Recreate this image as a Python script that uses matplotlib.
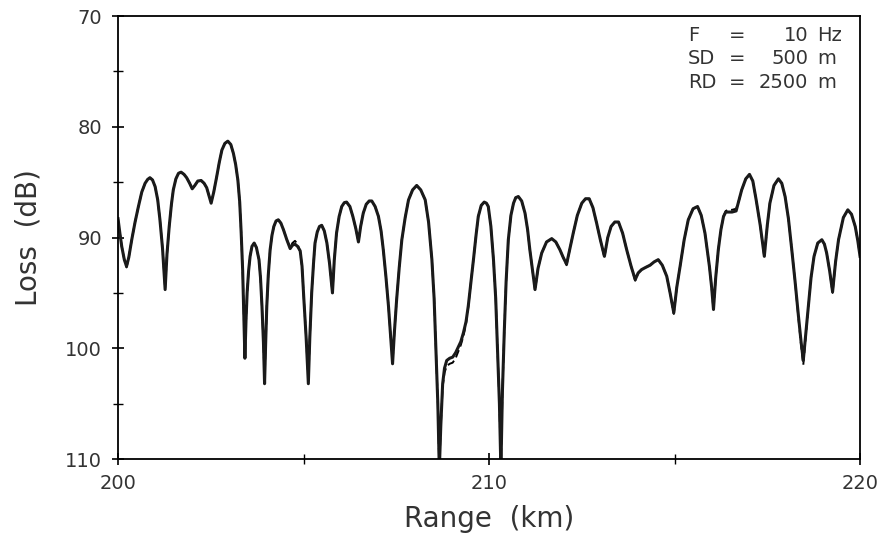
import numpy as np
import matplotlib
matplotlib.use("Agg")
import matplotlib.pyplot as plt
from matplotlib.ticker import MultipleLocator

# range (km) and loss (dB)
range_km = [
    200.00, 200.05, 200.10, 200.17, 200.23, 200.29, 200.37, 200.46, 200.55, 200.64,
    200.73, 200.80, 200.86, 200.93, 201.00, 201.07, 201.13, 201.20, 201.27, 201.32,
    201.38, 201.44, 201.49, 201.56, 201.63, 201.70, 201.78, 201.85, 201.93, 202.00,
    202.07, 202.15, 202.24, 202.32, 202.39, 202.46, 202.51, 202.58, 202.66, 202.73,
    202.80, 202.88, 202.96, 203.04, 203.11, 203.17, 203.23, 203.28, 203.32, 203.36,
    203.39, 203.42, 203.45, 203.48, 203.52, 203.56, 203.61, 203.67, 203.73, 203.80,
    203.84, 203.88, 203.92, 203.95, 203.98, 204.01, 204.05, 204.10, 204.15, 204.20,
    204.26, 204.32, 204.39, 204.46, 204.55, 204.64, 204.70, 204.77, 204.84, 204.91,
    204.96, 205.01, 205.07, 205.13, 205.17, 205.22, 205.27, 205.31, 205.37, 205.43,
    205.49, 205.56, 205.63, 205.70, 205.78, 205.83, 205.89, 205.96, 206.03, 206.10,
    206.16, 206.25, 206.33, 206.41, 206.48, 206.54, 206.61, 206.69, 206.77, 206.84,
    206.93, 207.02, 207.09, 207.15, 207.22, 207.29, 207.35, 207.40, 207.45, 207.51,
    207.58, 207.65, 207.74, 207.83, 207.94, 208.05, 208.16, 208.28, 208.37, 208.46,
    208.52, 208.57, 208.62, 208.66, 208.70, 208.75, 208.80, 208.86, 208.94, 209.02,
    209.10, 209.17, 209.24, 209.31, 209.38, 209.44, 209.51, 209.58, 209.65, 209.71,
    209.79, 209.87, 209.93, 209.98, 210.05, 210.12, 210.18, 210.23, 210.28, 210.32,
    210.36, 210.41, 210.46, 210.52, 210.59, 210.66, 210.72, 210.79, 210.88, 210.97,
    211.04, 211.10, 211.17, 211.24, 211.32, 211.42, 211.55, 211.69, 211.80, 211.91,
    212.00, 212.09, 212.18, 212.27, 212.38, 212.50, 212.60, 212.70, 212.80, 212.90,
    213.00, 213.11, 213.20, 213.29, 213.39, 213.49, 213.60, 213.71, 213.83, 213.94,
    214.02, 214.11, 214.22, 214.34, 214.45, 214.56, 214.67, 214.79, 214.88, 214.98,
    215.06, 215.15, 215.26, 215.37, 215.50, 215.62, 215.72, 215.82, 215.94, 216.00,
    216.05, 216.11, 216.18, 216.25, 216.32, 216.38, 216.45, 216.55, 216.66, 216.74,
    216.81, 216.92, 217.02, 217.11, 217.20, 217.31, 217.42, 217.50, 217.57, 217.68,
    217.80, 217.89, 217.98, 218.07, 218.16, 218.25, 218.34, 218.41, 218.47, 218.54,
    218.61, 218.68, 218.76, 218.86, 218.97, 219.04, 219.10, 219.18, 219.26, 219.34,
    219.42, 219.55, 219.67, 219.77, 219.87, 219.94, 220.00,
]

loss_solid = [
    88.3, 89.6, 90.8, 92.0, 92.6, 91.8, 90.2, 88.6, 87.2, 85.9,
    85.1, 84.75, 84.6, 84.8, 85.4, 86.6, 88.4, 91.0, 94.7, 91.5,
    89.0, 87.0, 85.7, 84.7, 84.2, 84.1, 84.3, 84.6, 85.1, 85.6,
    85.3, 84.9, 84.85, 85.1, 85.5, 86.3, 86.9, 85.9, 84.5, 83.2,
    82.1, 81.5, 81.3, 81.6, 82.4, 83.4, 84.8, 86.8, 89.6, 93.0,
    97.0, 100.9, 97.5, 95.0, 93.0, 91.7, 90.8, 90.5, 90.9, 92.0,
    93.6, 96.2, 99.5, 103.2, 99.5, 96.2, 93.4, 91.1, 89.8, 89.0,
    88.5, 88.4, 88.7, 89.3, 90.2, 91.0, 90.7, 90.6, 90.8, 91.2,
    92.6, 95.6, 99.0, 103.2, 99.0, 95.0, 92.3, 90.5, 89.5, 89.0,
    88.9, 89.4, 90.5, 92.3, 95.0, 92.0, 89.6, 88.1, 87.2, 86.85,
    86.8, 87.2, 88.1, 89.2, 90.4, 89.0, 87.8, 87.0, 86.7, 86.7,
    87.2, 88.1, 89.4, 91.1, 93.5, 96.2, 99.0, 101.4, 98.5, 95.6,
    92.7, 90.2, 88.2, 86.6, 85.7, 85.3, 85.7, 86.6, 88.6, 92.0,
    95.5, 100.2, 105.0, 111.0, 107.0, 103.2, 101.8, 101.1, 100.9, 100.8,
    100.4, 99.9, 99.4, 98.6, 97.6, 96.2, 94.1, 92.0, 89.8, 88.1,
    87.1, 86.8, 86.9, 87.2, 89.0, 92.0, 95.5, 100.2, 105.0, 111.0,
    104.0, 98.6, 94.0, 90.2, 88.0, 86.9, 86.4, 86.3, 86.7, 87.8,
    89.3, 91.1, 92.9, 94.7, 92.8, 91.4, 90.4, 90.1, 90.4, 91.1,
    91.8, 92.4, 91.0, 89.6, 88.0, 86.9, 86.5, 86.5, 87.3, 88.7,
    90.2, 91.7, 90.0, 89.0, 88.6, 88.6, 89.6, 91.1, 92.6, 93.8,
    93.2, 92.9, 92.7, 92.5, 92.2, 92.0, 92.5, 93.5, 95.0, 96.8,
    94.5, 92.6, 90.2, 88.4, 87.4, 87.2, 88.0, 89.6, 92.6, 94.5,
    96.5, 93.6, 91.1, 89.3, 88.1, 87.7, 87.7, 87.7, 87.6, 86.6,
    85.7, 84.7, 84.3, 84.9, 86.6, 88.9, 91.7, 88.9, 86.9, 85.3,
    84.7, 85.1, 86.3, 88.3, 91.1, 94.0, 97.1, 99.4, 101.1, 98.6,
    96.2, 93.6, 91.7, 90.5, 90.2, 90.6, 91.4, 93.0, 94.9, 92.2,
    90.2, 88.2, 87.5, 87.9, 89.0, 90.3, 91.7,
]

loss_dashed = [
    88.3, 89.6, 90.8, 92.0, 92.7, 91.8, 90.2, 88.6, 87.2, 85.9,
    85.1, 84.75, 84.6, 84.8, 85.4, 86.6, 88.4, 91.0, 94.6, 91.5,
    89.0, 87.0, 85.7, 84.7, 84.2, 84.1, 84.3, 84.6, 85.1, 85.6,
    85.3, 84.9, 84.85, 85.1, 85.5, 86.3, 86.8, 85.9, 84.5, 83.2,
    82.1, 81.5, 81.3, 81.6, 82.4, 83.4, 84.8, 86.8, 89.6, 93.0,
    97.0, 100.8, 97.5, 95.0, 93.0, 91.7, 90.8, 90.5, 90.9, 92.0,
    93.6, 96.2, 99.5, 103.0, 99.5, 96.2, 93.4, 91.1, 89.8, 89.0,
    88.5, 88.4, 88.7, 89.3, 90.2, 90.9, 90.5, 90.3, 90.6, 91.3,
    92.6, 95.6, 99.0, 103.0, 99.0, 95.0, 92.3, 90.5, 89.5, 89.0,
    88.9, 89.4, 90.5, 92.3, 95.0, 92.0, 89.6, 88.1, 87.2, 86.85,
    86.8, 87.2, 88.1, 89.2, 90.4, 89.0, 87.8, 87.0, 86.7, 86.7,
    87.2, 88.1, 89.4, 91.1, 93.5, 96.2, 99.0, 101.3, 98.5, 95.6,
    92.7, 90.2, 88.2, 86.6, 85.7, 85.3, 85.7, 86.6, 88.6, 92.0,
    95.5, 100.2, 105.0, 111.0, 107.0, 103.5, 102.2, 101.6, 101.4, 101.3,
    100.9, 100.3, 99.7, 98.9, 97.8, 96.3, 94.1, 92.0, 89.8, 88.1,
    87.1, 86.8, 86.9, 87.2, 89.0, 92.0, 95.5, 100.2, 105.0, 111.0,
    104.0, 98.6, 94.0, 90.2, 88.0, 86.9, 86.4, 86.3, 86.7, 87.8,
    89.3, 91.1, 92.9, 94.8, 92.8, 91.4, 90.4, 90.1, 90.4, 91.1,
    91.8, 92.5, 91.0, 89.6, 88.0, 86.9, 86.5, 86.5, 87.3, 88.7,
    90.2, 91.8, 90.0, 89.0, 88.6, 88.6, 89.6, 91.1, 92.6, 93.9,
    93.2, 92.9, 92.7, 92.5, 92.2, 92.0, 92.5, 93.5, 95.0, 96.9,
    94.5, 92.6, 90.2, 88.4, 87.4, 87.2, 88.0, 89.6, 92.6, 94.5,
    96.6, 93.6, 91.1, 89.3, 88.1, 87.6, 87.5, 87.5, 87.4, 86.6,
    85.7, 84.7, 84.3, 84.9, 86.6, 88.9, 91.8, 88.9, 86.9, 85.3,
    84.7, 85.1, 86.3, 88.3, 91.1, 94.0, 97.3, 99.7, 101.5, 98.8,
    96.2, 93.6, 91.7, 90.5, 90.2, 90.6, 91.4, 93.0, 95.0, 92.2,
    90.2, 88.2, 87.5, 87.9, 89.0, 90.3, 91.7,
]

info_names = ['F', 'SD', 'RD']
info_values = ['10', '500', '2500']
info_units = ['Hz', 'm', 'm']

fig = plt.figure(figsize=(8.84, 5.34), dpi=100)
ax = fig.add_axes([0.1335, 0.1404, 0.8394, 0.8296])

ax.plot(range_km, loss_dashed, color='black', lw=1.4, ls=(0, (4, 2)))
ax.plot(range_km, loss_solid, color='#1a1a1a', lw=2.2, solid_joinstyle='round')

ax.set_xlim(200, 220)
ax.set_ylim(110, 70)
ax.xaxis.set_major_locator(MultipleLocator(10))
ax.xaxis.set_minor_locator(MultipleLocator(5))
ax.yaxis.set_major_locator(MultipleLocator(10))
ax.yaxis.set_minor_locator(MultipleLocator(5))
ax.tick_params(which='major', direction='inout', length=9, width=1.2,
               labelsize=14, labelcolor='#333333', pad=7)
ax.tick_params(axis='x', which='major', pad=6)
ax.tick_params(which='minor', direction='inout', length=7, width=1.0)
for s in ax.spines.values():
    s.set_linewidth(1.3)

ax.set_xlabel('Range  (km)', fontsize=20, color='#333333', labelpad=9)
ax.set_ylabel('Loss  (dB)', fontsize=20, color='#333333', labelpad=16)

# parameter block in the upper right
for i, (name, val, unit) in enumerate(zip(info_names, info_values, info_units)):
    y = 0.957 - i * 0.053
    kw = dict(transform=ax.transAxes, fontsize=14, color='#333333', va='center')
    ax.text(0.768, y, name, ha='left', **kw)
    ax.text(0.835, y, '=', ha='center', **kw)
    ax.text(0.930, y, val, ha='right', **kw)
    ax.text(0.942, y, unit, ha='left', **kw)

fig.savefig('out.png', dpi=100)
